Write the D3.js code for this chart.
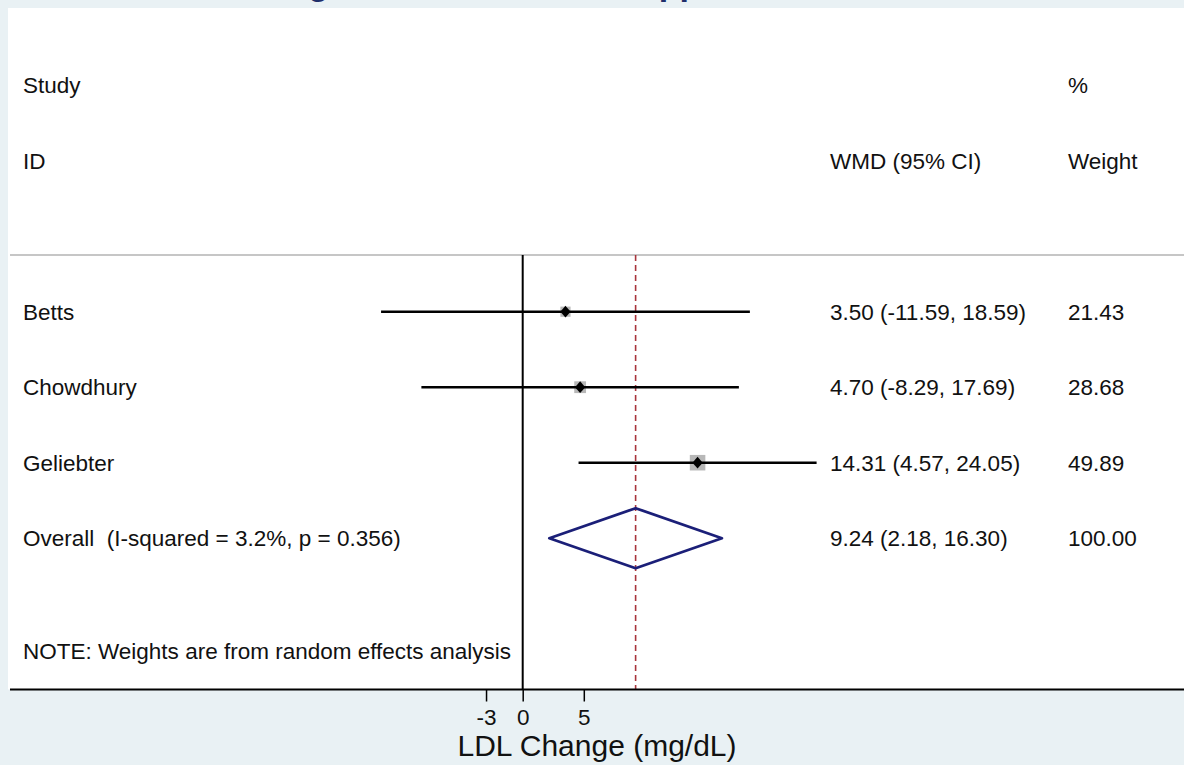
<!DOCTYPE html>
<html>
<head>
<meta charset="utf-8">
<script src="https://cdn.jsdelivr.net/npm/d3@7"></script>
<style>
  body { margin: 0; background: #e9f1f4; }
  svg { display: block; font-family: "Liberation Sans", Arial, sans-serif; }
  text { white-space: pre; }
</style>
</head>
<body>
<svg></svg>
<script>
let studies = ['Betts', 'Chowdhury', 'Geliebter'];
let wmd = [3.50, 4.70, 14.31];
let lower = [-11.59, -8.29, 4.57];
let upper = [18.59, 17.69, 24.05];
let weights = [21.43, 28.68, 49.89];

let overallLabel = 'Overall  (I-squared = 3.2%, p = 0.356)';
let overall = [9.24, 2.18, 16.30];
let overallWeight = 100.00;

let xTicks = [-3, 0, 5];
let xTitle = 'LDL Change (mg/dL)';
let noteText = 'NOTE: Weights are from random effects analysis';
let titleText = 'Forest Plot: Change in LDL after the Supplement';

let width = 1184;
let height = 765;
let axisY = 689.5;
let fs = 22.5;

let svg = d3.select('svg');

let xScale;
let rowScale;
let boxScale;

// stata style: plain hyphen for minus
let fmt = (v) => v.toFixed(2);

let drawChart = () => {
    svg.attr('width', width)
    svg.attr('height', height)

    svg.append('rect')
        .attr('x', 8)
        .attr('y', 8)
        .attr('width', width - 8)
        .attr('height', axisY - 8)
        .attr('fill', '#ffffff')

    // title, mostly cut off above the window
    let title = svg.append('text')
        .attr('y', -5)
        .attr('fill', '#1f2f6b')
        .attr('font-size', 34)
        .attr('font-weight', 'bold')
        .text(titleText)
    let gi = titleText.indexOf('g')
    let off = title.node().getSubStringLength(0, gi)
    title.attr('x', 308 - off)
}

let generateScales = () => {
    let m = d3.max(upper.concat(lower).map(Math.abs))
    xScale = d3.scaleLinear()
                .domain([-m, m])
                .range([228.8, 816.6])

    rowScale = d3.scaleLinear()
                .domain([0, 1])
                .range([311.7, 387.2])

    boxScale = d3.scaleSqrt()
                .domain([0, 100])
                .range([0, 22])
}

let drawHeaders = () => {
    let head = [
        {t: 'Study', x: 23, r: -3},
        {t: 'ID', x: 23, r: -2},
        {t: '%', x: 1068, r: -3},
        {t: 'WMD (95% CI)', x: 830, r: -2},
        {t: 'Weight', x: 1068, r: -2}
    ]
    svg.selectAll('.head')
        .data(head)
        .enter()
        .append('text')
        .attr('class', 'head')
        .attr('x', d => d.x)
        .attr('y', d => rowScale(d.r) + 8)
        .attr('font-size', fs)
        .attr('fill', '#111')
        .text(d => d.t)

    svg.append('line')
        .attr('x1', 10)
        .attr('x2', width)
        .attr('y1', rowScale(-0.75))
        .attr('y2', rowScale(-0.75))
        .attr('stroke', '#c6c6c6')
        .attr('stroke-width', 2)
}

let drawLines = () => {
    svg.append('line')
        .attr('x1', xScale(0))
        .attr('x2', xScale(0))
        .attr('y1', rowScale(-0.75))
        .attr('y2', axisY)
        .attr('stroke', '#000')
        .attr('stroke-width', 2)

    svg.append('line')
        .attr('x1', xScale(overall[0]))
        .attr('x2', xScale(overall[0]))
        .attr('y1', rowScale(-0.75))
        .attr('y2', axisY)
        .attr('stroke', '#a8353c')
        .attr('stroke-width', 1.6)
        .attr('stroke-dasharray', '6,4')
}

let drawStudies = () => {
    let rows = svg.selectAll('.study')
        .data(studies)
        .enter()
        .append('g')
        .attr('class', 'study')
        .attr('transform', (d, i) => `translate(0, ${rowScale(i)})`)

    rows.append('text')
        .attr('x', 23)
        .attr('y', 8)
        .attr('font-size', fs)
        .attr('fill', '#111')
        .text(d => d)

    rows.append('rect')
        .attr('x', (d, i) => xScale(wmd[i]) - boxScale(weights[i]) / 2)
        .attr('y', (d, i) => -boxScale(weights[i]) / 2)
        .attr('width', (d, i) => boxScale(weights[i]))
        .attr('height', (d, i) => boxScale(weights[i]))
        .attr('fill', '#b8b8b8')

    rows.append('line')
        .attr('x1', (d, i) => xScale(lower[i]))
        .attr('x2', (d, i) => xScale(upper[i]))
        .attr('stroke', '#000')
        .attr('stroke-width', 2.4)

    rows.append('path')
        .attr('d', d3.symbol(d3.symbolDiamond, 40))
        .attr('transform', (d, i) => `translate(${xScale(wmd[i])}, 0) scale(1.5, 1)`)
        .attr('fill', '#000')

    rows.append('text')
        .attr('x', 830)
        .attr('y', 8)
        .attr('font-size', fs)
        .attr('fill', '#111')
        .text((d, i) => `${fmt(wmd[i])} (${fmt(lower[i])}, ${fmt(upper[i])})`)

    rows.append('text')
        .attr('x', 1068)
        .attr('y', 8)
        .attr('font-size', fs)
        .attr('fill', '#111')
        .text((d, i) => fmt(weights[i]))
}

let drawOverall = () => {
    let y = rowScale(3)
    let g = svg.append('g').attr('transform', `translate(0, ${y})`)

    g.append('text')
        .attr('x', 23)
        .attr('y', 8)
        .attr('font-size', fs)
        .attr('fill', '#111')
        .text(overallLabel)

    let pts = [
        [xScale(overall[1]), 0],
        [xScale(overall[0]), -30],
        [xScale(overall[2]), 0],
        [xScale(overall[0]), 30]
    ]
    g.append('path')
        .attr('d', d3.line()(pts) + 'Z')
        .attr('fill', 'none')
        .attr('stroke', '#1b1f78')
        .attr('stroke-width', 2.8)
        .attr('stroke-linejoin', 'round')

    g.append('text')
        .attr('x', 830)
        .attr('y', 8)
        .attr('font-size', fs)
        .attr('fill', '#111')
        .text(`${fmt(overall[0])} (${fmt(overall[1])}, ${fmt(overall[2])})`)

    g.append('text')
        .attr('x', 1068)
        .attr('y', 8)
        .attr('font-size', fs)
        .attr('fill', '#111')
        .text(fmt(overallWeight))

    svg.append('text')
        .attr('x', 23)
        .attr('y', rowScale(4.5) + 8)
        .attr('font-size', fs)
        .attr('fill', '#111')
        .text(noteText)
}

let generateAxis = () => {
    let xAxis = d3.axisBottom(xScale)
                .tickValues(xTicks)
                .tickSize(12)
                .tickPadding(8)
                .tickFormat(d => String(d))

    let ax = svg.append('g')
        .call(xAxis)
        .attr('id', 'x-axis')
        .attr('transform', `translate(0, ${axisY})`)

    ax.select('.domain').remove()
    ax.selectAll('line').attr('stroke', '#000').attr('stroke-width', 1.5)
    ax.selectAll('text')
        .attr('font-size', fs)
        .attr('font-family', '"Liberation Sans", Arial, sans-serif')
        .attr('fill', '#111')

    svg.append('line')
        .attr('x1', 10)
        .attr('x2', width)
        .attr('y1', axisY)
        .attr('y2', axisY)
        .attr('stroke', '#000')
        .attr('stroke-width', 2)

    svg.append('text')
        .attr('x', 597)
        .attr('y', 756)
        .attr('text-anchor', 'middle')
        .attr('font-size', 30)
        .attr('fill', '#111')
        .text(xTitle)
}

drawChart()
generateScales()
drawHeaders()
drawLines()
drawStudies()
drawOverall()
generateAxis()
</script>
</body>
</html>
